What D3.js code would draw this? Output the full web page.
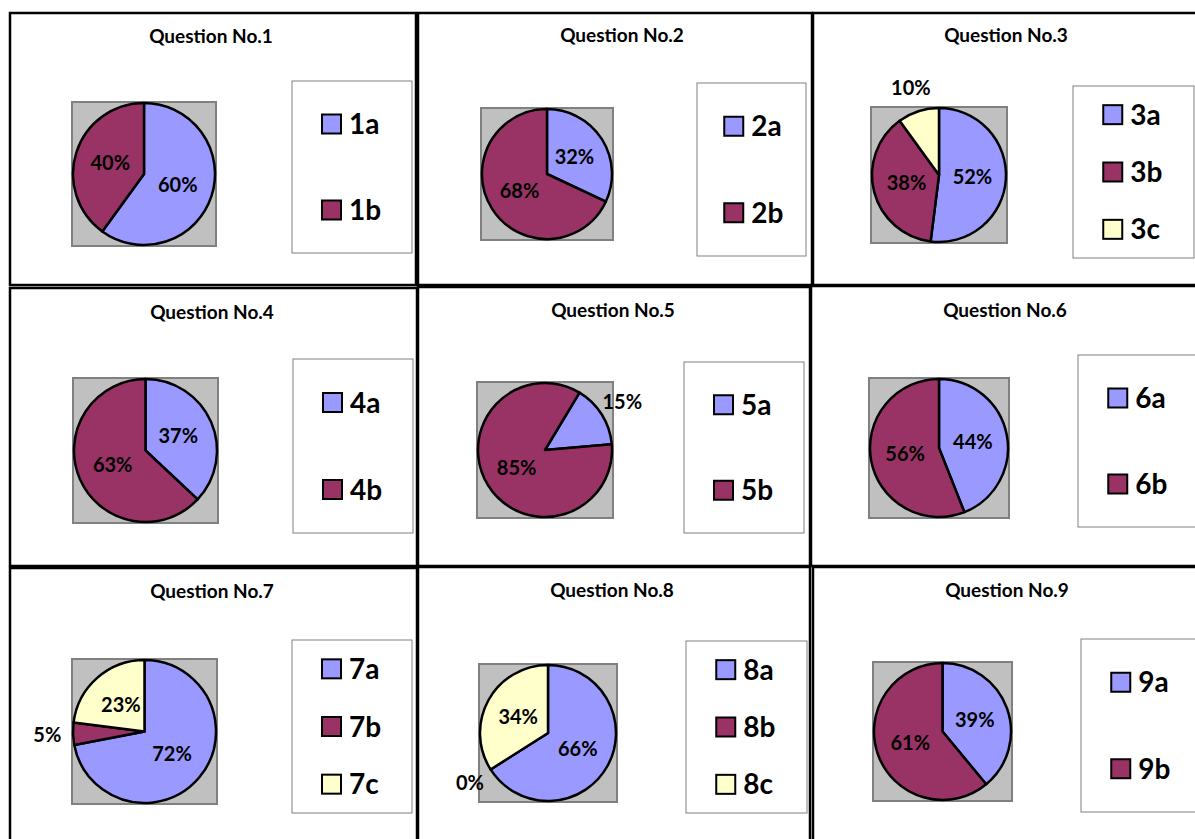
<!DOCTYPE html>
<html>
<head>
<meta charset="utf-8">
<script src="https://cdn.jsdelivr.net/npm/d3@7"></script>
<style>
  body { margin: 0; background: #fff; }
  text { font-family: Lato, "Open Sans", sans-serif; font-weight: bold; fill: #000; }
</style>
</head>
<body>
<div id="content"></div>
<script>
// chart data
const titles = ['Question No.1', 'Question No.2', 'Question No.3', 'Question No.4', 'Question No.5',
                'Question No.6', 'Question No.7', 'Question No.8', 'Question No.9'];
const categories = [['1a', '1b'], ['2a', '2b'], ['3a', '3b', '3c'], ['4a', '4b'], ['5a', '5b'],
                    ['6a', '6b'], ['7a', '7b', '7c'], ['8a', '8b', '8c'], ['9a', '9b']];
const values = [[60, 40], [32, 68], [52, 38, 10], [37, 63], [15, 85],
                [44, 56], [72, 5, 23], [66, 0, 34], [39, 61]];
const sliceColors = ['#9999ff', '#993366', '#ffffcc'];
// first slice rotation in degrees (question 5 is turned)
const rotation = [0, 0, 0, 0, 31, 0, 0, 0, 0];

// panel layout: frame, title, gray plot square, legend box
const frames = [[10, 13, 416, 285], [418, 13, 812, 285], [813, 13, 1200, 285],
                [10, 288, 417, 566], [418, 287, 810, 566], [811, 286, 1200, 566],
                [10, 568, 417, 850], [418, 567, 810, 850], [813, 567, 1200, 850]];
const titlePos = [[211, 43], [622, 42], [1006, 42], [212, 319], [613, 317], [1005, 317],
                  [212, 598], [612, 597], [1007, 597]];
const plotSquares = [[72, 102, 144], [481, 108, 132], [871, 107, 136], [73, 378, 145], [477, 382, 136],
                     [869, 378, 140], [72, 659, 145], [479, 664, 138], [873, 662, 139]];
const legendBoxes = [[292, 81, 412, 253], [697, 83, 806, 256], [1073, 86, 1194, 258],
                     [293, 359, 413, 533], [684, 362, 804, 533], [1078, 355, 1210, 527],
                     [292, 640, 412, 813], [686, 641, 807, 813], [1081, 639, 1210, 812]];

const width = 1195, height = 839;
const svg = d3.select('#content').append('svg')
  .attr('width', width).attr('height', height);

const pie = d3.pie().sort(null).value(d => d);

titles.forEach((title, i) => {
  const g = svg.append('g').attr('class', 'panel');
  const f = frames[i];
  g.append('rect')
    .attr('x', f[0]).attr('y', f[1])
    .attr('width', f[2] - f[0]).attr('height', f[3] - f[1])
    .attr('fill', '#fff').attr('stroke', '#000').attr('stroke-width', 2.5);

  g.append('text').text(title)
    .attr('x', titlePos[i][0]).attr('y', titlePos[i][1])
    .attr('text-anchor', 'middle').style('font-size', '19px');

  // gray plot area
  const sq = plotSquares[i];
  g.append('rect')
    .attr('x', sq[0]).attr('y', sq[1]).attr('width', sq[2]).attr('height', sq[2])
    .attr('fill', '#c0c0c0').attr('stroke', '#808080').attr('stroke-width', 2);

  const r = sq[2] / 2 - 1;
  const cx = sq[0] + sq[2] / 2, cy = sq[1] + sq[2] / 2;
  const rot = rotation[i] * Math.PI / 180;
  const arcs = pie.startAngle(rot).endAngle(rot + 2 * Math.PI)(values[i]);
  const arc = d3.arc().innerRadius(0).outerRadius(r);
  const inLabel = d3.arc().innerRadius(r * 0.5).outerRadius(r * 0.5);
  const outLabel = d3.arc().innerRadius(r * 1.36).outerRadius(r * 1.36);

  const pg = g.append('g').attr('transform', `translate(${cx},${cy})`);
  pg.selectAll('path').data(arcs).enter().append('path')
    .attr('d', arc)
    .attr('fill', (d, j) => sliceColors[j])
    .attr('stroke', '#000').attr('stroke-width', 2.5).attr('stroke-linejoin', 'round');

  pg.selectAll('text').data(arcs).enter().append('text')
    .text(d => d.data + '%')
    .attr('transform', d => `translate(${(d.data <= 15 ? outLabel : inLabel).centroid(d)})`)
    .attr('text-anchor', 'middle').attr('dy', '0.35em')
    .style('font-size', '20px');

  // legend
  const lb = legendBoxes[i];
  const lw = lb[2] - lb[0], lh = lb[3] - lb[1];
  g.append('rect')
    .attr('x', lb[0]).attr('y', lb[1]).attr('width', lw).attr('height', lh)
    .attr('fill', '#fff').attr('stroke', '#808080').attr('stroke-width', 1);
  const itemY = d3.scalePoint().domain(categories[i]).range([lb[1], lb[3]]).padding(0.5);
  const sx = lb[0] + Math.min(lw, 121) * 0.25;
  const items = g.selectAll('.item').data(categories[i]).enter().append('g')
    .attr('class', 'item')
    .attr('transform', d => `translate(${sx},${itemY(d)})`);
  items.append('rect')
    .attr('x', 0).attr('y', -9.5).attr('width', 19).attr('height', 19)
    .attr('fill', (d, j) => sliceColors[j]).attr('stroke', '#000').attr('stroke-width', 2);
  items.append('text').text(d => d)
    .attr('x', 27).attr('dy', '0.36em')
    .style('font-size', '28px');
});
</script>
</body>
</html>
